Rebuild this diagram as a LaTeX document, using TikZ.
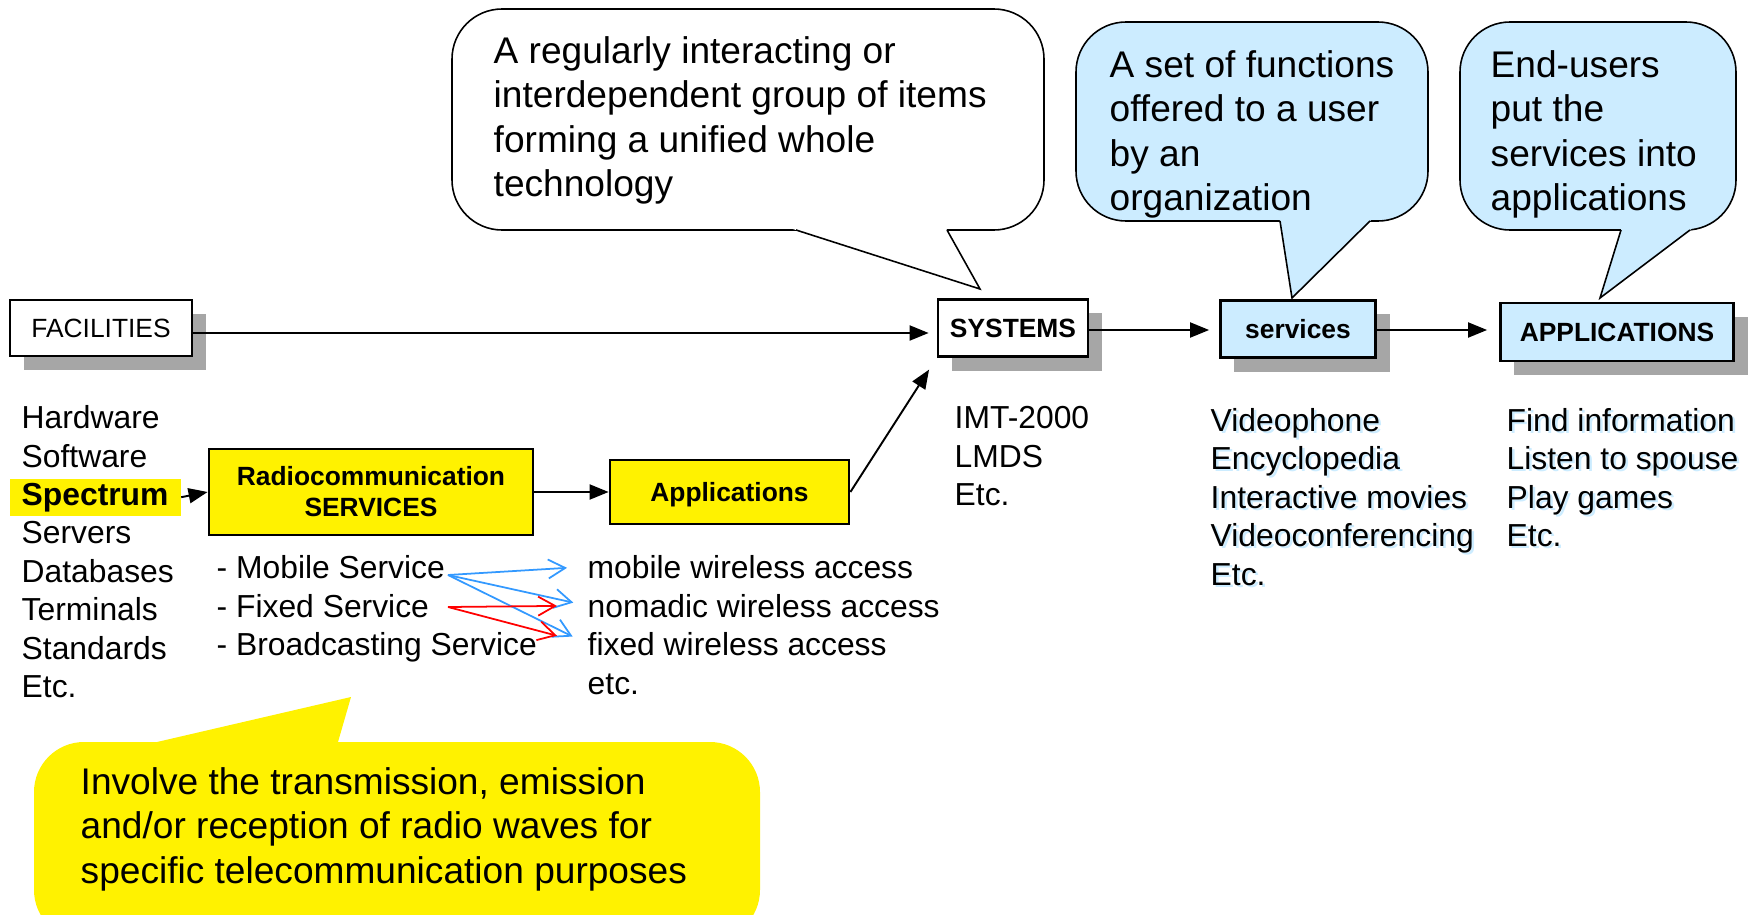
\documentclass[tikz,border=0pt]{standalone}
\usepackage{fontspec}
\setmainfont{Liberation Sans}
\usetikzlibrary{arrows.meta,shadows,calc}
\definecolor{paleblue}{HTML}{CCECFF}
\definecolor{linkblue}{HTML}{3399FF}

\begin{document}
\begin{tikzpicture}[x=0.01cm, y=-0.01cm,
    box/.style={draw, line width=0.75pt, inner sep=0pt, align=center,
        font=\fontsize{7.5}{8.8}\selectfont\bfseries,
        drop shadow={shadow xshift=0.14cm, shadow yshift=-0.14cm, fill=black!35, opacity=1}},
    ybox/.style={draw, fill=yellow, line width=0.75pt, inner sep=0pt, align=center,
        font=\fontsize{7.5}{8.8}\selectfont\bfseries},
    item/.style={anchor=base west, inner sep=0pt, font=\fontsize{9.05}{10.9}\selectfont},
    ghost/.style={item, text=paleblue, xshift=0.025cm, yshift=-0.025cm},
    note/.style={anchor=north west, inner sep=0pt, align=left, font=\fontsize{10.55}{12.6}\selectfont},
    rim/.style={line width=0.45pt},
    flow/.style={-{Triangle[length=0.19cm,width=0.15cm]}, line width=0.55pt},
    link/.style={-{Straight Barb[length=0.17cm,width=0.19cm]}, line width=0.5pt}]
    \useasboundingbox (0,0) rectangle (1757,915);
    \clip (0,0) rectangle (1757,915);

    % callouts
    \coordinate (w1) at (796,230); \coordinate (w2) at (947,230); \coordinate (wt) at (980,289);
    \draw[rim, fill=white, rounded corners=0.5cm] (452,9) rectangle (1044,230);
    \fill[white] ($(wt)!1.06!(w1)$) -- (wt) -- ($(wt)!1.06!(w2)$) -- cycle;
    \draw[rim] (w1) -- (wt) -- (w2);
    \node[note] (sysnote) at (493,36) {A regularly interacting or\\interdependent group of items\\forming a unified whole\\technology};

    \coordinate (s1) at (1280,221); \coordinate (s2) at (1370,221); \coordinate (st) at (1292,298);
    \draw[rim, fill=paleblue, rounded corners=0.5cm] (1076,22) rectangle (1428,221);
    \fill[paleblue] ($(st)!1.06!(s1)$) -- (st) -- ($(st)!1.06!(s2)$) -- cycle;
    \draw[rim] (s1) -- (st) -- (s2);
    \node[note] (servnote) at (1109,50) {A set of functions\\offered to a user\\by an\\organization};

    \coordinate (a1) at (1621,230); \coordinate (a2) at (1690,230); \coordinate (at) at (1600,298);
    \draw[rim, fill=paleblue, rounded corners=0.5cm] (1460,22) rectangle (1736,230);
    \fill[paleblue] ($(at)!1.06!(a1)$) -- (at) -- ($(at)!1.06!(a2)$) -- cycle;
    \draw[rim] (a1) -- (at) -- (a2);
    \node[note] (appnote) at (1490,50) {End-users\\put the\\services into\\applications};

    \coordinate (r1) at (157,742); \coordinate (r2) at (338,742); \coordinate (rt) at (351,697);
    \fill[yellow, rounded corners=0.5cm] (34,742) rectangle (760,940);
    \fill[yellow] ($(rt)!1.1!(r1)$) -- (rt) -- ($(rt)!1.1!(r2)$) -- cycle;
    \node[note] (radionote) at (80,767) {Involve the transmission, emission\\and/or reception of radio waves for\\specific telecommunication purposes};

    % top row
    \node[box, fill=white, minimum width=1.82cm, minimum height=0.56cm,
        font=\fontsize{7.5}{8.8}\selectfont] (facil) at (101,328) {FACILITIES};
    \node[box, fill=white, minimum width=1.5cm, minimum height=0.57cm] (sys) at (1013,328) {SYSTEMS};
    \node[box, fill=paleblue, minimum width=1.55cm, minimum height=0.57cm] (serv) at (1298,329) {services};
    \node[box, fill=paleblue, minimum width=2.33cm, minimum height=0.58cm] (apps) at (1617,332) {APPLICATIONS};

    % lists
    \foreach \y/\txt [count=\i] in {428/Hardware,467/Software,543/Servers,582/Databases,620/Terminals,659/Standards,697/Etc.}
        \node[item] (res\i) at (21,\y) {\txt};
    \node[item, fill=yellow, inner xsep=0.12cm, inner ysep=0.042cm,
        font=\fontsize{9.05}{10.9}\selectfont\bfseries] (spec) at (9,505) {Spectrum};
    \foreach \y/\txt [count=\i] in {428/IMT-2000,467/LMDS,505/Etc.}
        \node[item] (sysitem\i) at (954,\y) {\txt};
    \foreach \y/\txt [count=\i] in {431/Videophone,469/Encyclopedia,508/Interactive movies,546/Videoconferencing,585/Etc.}{
        \node[ghost] (servghost\i) at (1210,\y) {\txt};
        \node[item] (servitem\i) at (1210,\y) {\txt};
    }
    \foreach \y/\txt [count=\i] in {431/Find information,469/Listen to spouse,508/Play games,546/Etc.}{
        \node[ghost] (appghost\i) at (1506,\y) {\txt};
        \node[item] (appitem\i) at (1506,\y) {\txt};
    }

    \node[ybox, minimum width=3.24cm, minimum height=0.86cm] (radio) at (371,492) {Radiocommunication\\SERVICES};
    \node[ybox, minimum width=2.39cm, minimum height=0.64cm, text depth=0pt] (appl) at (729.5,492) {Applications};

    \node[item] (mob) at (216,578) {- Mobile Service};
    \node[item] (fix) at (216,617) {- Fixed Service};
    \node[item] (brd) at (216,655) {- Broadcasting Service};
    \node[item] (mwa) at (587,578) {mobile wireless access};
    \node[item] (nwa) at (587,617) {nomadic wireless access};
    \node[item] (fwa) at (587,655) {fixed wireless access};
    \node[item] (wetc) at (587,694) {etc.};

    % connectors
    \draw[flow, shorten >=0.08cm] ([yshift=-0.05cm]facil.east) -- ([yshift=-0.05cm]sys.west);
    \draw[flow, shorten >=0.1cm] ([yshift=-0.02cm]sys.east) -- ([yshift=-0.02cm]sys.east -| serv.west);
    \draw[flow, shorten >=0.12cm] ([yshift=-0.01cm]serv.east) -- ([yshift=-0.01cm]serv.east -| apps.west);
    \draw[flow] (spec.east) -- (radio.west);
    \draw[flow] (radio.east) -- (appl.west);
    \draw[flow, shorten >=0.14cm] (appl.east) -- (sys.south west);

    \coordinate (mobsrc) at (448,575);
    \coordinate (fixsrc) at (448,607);
    \draw[link, linkblue, shorten >=0.2cm] (mobsrc) -- (mwa.west);
    \draw[link, linkblue, shorten >=0.14cm] (mobsrc) -- (nwa.west);
    \draw[link, linkblue, shorten >=0.16cm] (mobsrc) -- (fwa.west);
    \draw[link, red, shorten >=0.3cm] (fixsrc) -- (nwa.west);
    \draw[link, red, shorten >=0.31cm] (fixsrc) -- (fwa.west);
\end{tikzpicture}
\end{document}
